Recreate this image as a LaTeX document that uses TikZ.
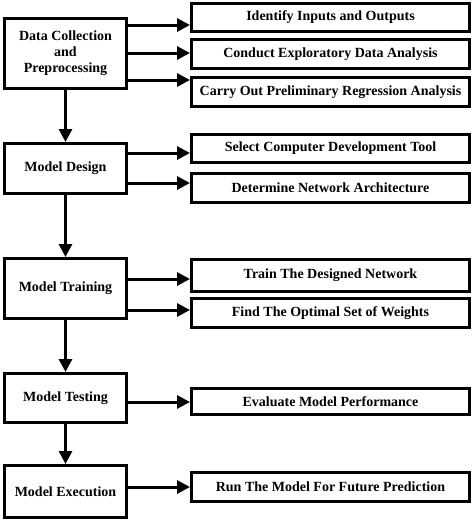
\documentclass[tikz,border=0pt]{standalone}
\usepackage{fontspec}
\setmainfont{Liberation Serif}
\usetikzlibrary{arrows.meta}
\begin{document}
\begin{tikzpicture}[x=1pt,y=-1pt,
  lbox/.style={draw,line width=3pt,minimum width=122pt,inner sep=0pt,align=center,font=\fontsize{14}{16}\selectfont\bfseries},
  rbox/.style={draw,line width=3pt,minimum width=278pt,inner sep=0pt,align=center,font=\fontsize{14}{16}\selectfont\bfseries},
  arr/.style={line width=3pt,-{Triangle[length=13pt,width=13pt]}}]
\useasboundingbox (0,0) rectangle (474,520);
% left boxes
\node[lbox,minimum height=70pt] (L1) at (65.5,53.5) {Data Collection\\and\\Preprocessing};
\node[lbox,minimum height=50pt] (L2) at (65.5,168.5) {Model Design};
\node[lbox,minimum height=60pt] (L3) at (65.5,288.5) {Model Training};
\node[lbox,minimum height=49pt] (L4) at (65.5,398) {Model Testing};
\node[lbox,minimum height=52pt] (L5) at (65.5,491.5) {Model Execution};
% right boxes
\node[rbox,minimum height=28pt] (R1) at (330.5,17.5) {Identify Inputs and Outputs};
\node[rbox,minimum height=29pt] (R2) at (330.5,54) {Conduct Exploratory Data Analysis};
\node[rbox,minimum height=29pt] (R3) at (330.5,92) {Carry Out Preliminary Regression Analysis};
\node[rbox,minimum height=28pt] (R4) at (330.5,148.5) {Select Computer Development Tool};
\node[rbox,minimum height=29pt] (R5) at (330.5,188) {Determine Network Architecture};
\node[rbox,minimum height=32pt] (R6) at (330.5,275.5) {Train The Designed Network};
\node[rbox,minimum height=29pt] (R7) at (330.5,313) {Find The Optimal Set of Weights};
\node[rbox,minimum height=26pt] (R8) at (330.5,401.5) {Evaluate Model Performance};
\node[rbox,minimum height=29pt] (R9) at (330.5,487) {Run The Model For Future Prediction};
% arrow levels
\coordinate (a1) at (0,25);
\coordinate (a2) at (0,53);
\coordinate (a3) at (0,80);
\coordinate (a4) at (0,153);
\coordinate (a5) at (0,183);
\coordinate (a6) at (0,279);
\coordinate (a7) at (0,310);
\coordinate (a8) at (0,402);
\coordinate (a9) at (0,487);
\draw[arr] (L1.east |- a1) -- (R1.west |- a1);
\draw[arr] (L1.east |- a2) -- (R2.west |- a2);
\draw[arr] (L1.east |- a3) -- (R3.west |- a3);
\draw[arr] (L2.east |- a4) -- (R4.west |- a4);
\draw[arr] (L2.east |- a5) -- (R5.west |- a5);
\draw[arr] (L3.east |- a6) -- (R6.west |- a6);
\draw[arr] (L3.east |- a7) -- (R7.west |- a7);
\draw[arr] (L4.east |- a8) -- (R8.west |- a8);
\draw[arr] (L5.east |- a9) -- (R9.west |- a9);
% vertical
\draw[arr] (L1) -- (L2);
\draw[arr] (L2) -- (L3);
\draw[arr] (L3) -- (L4);
\draw[arr] (L4) -- (L5);
\end{tikzpicture}
\end{document}
